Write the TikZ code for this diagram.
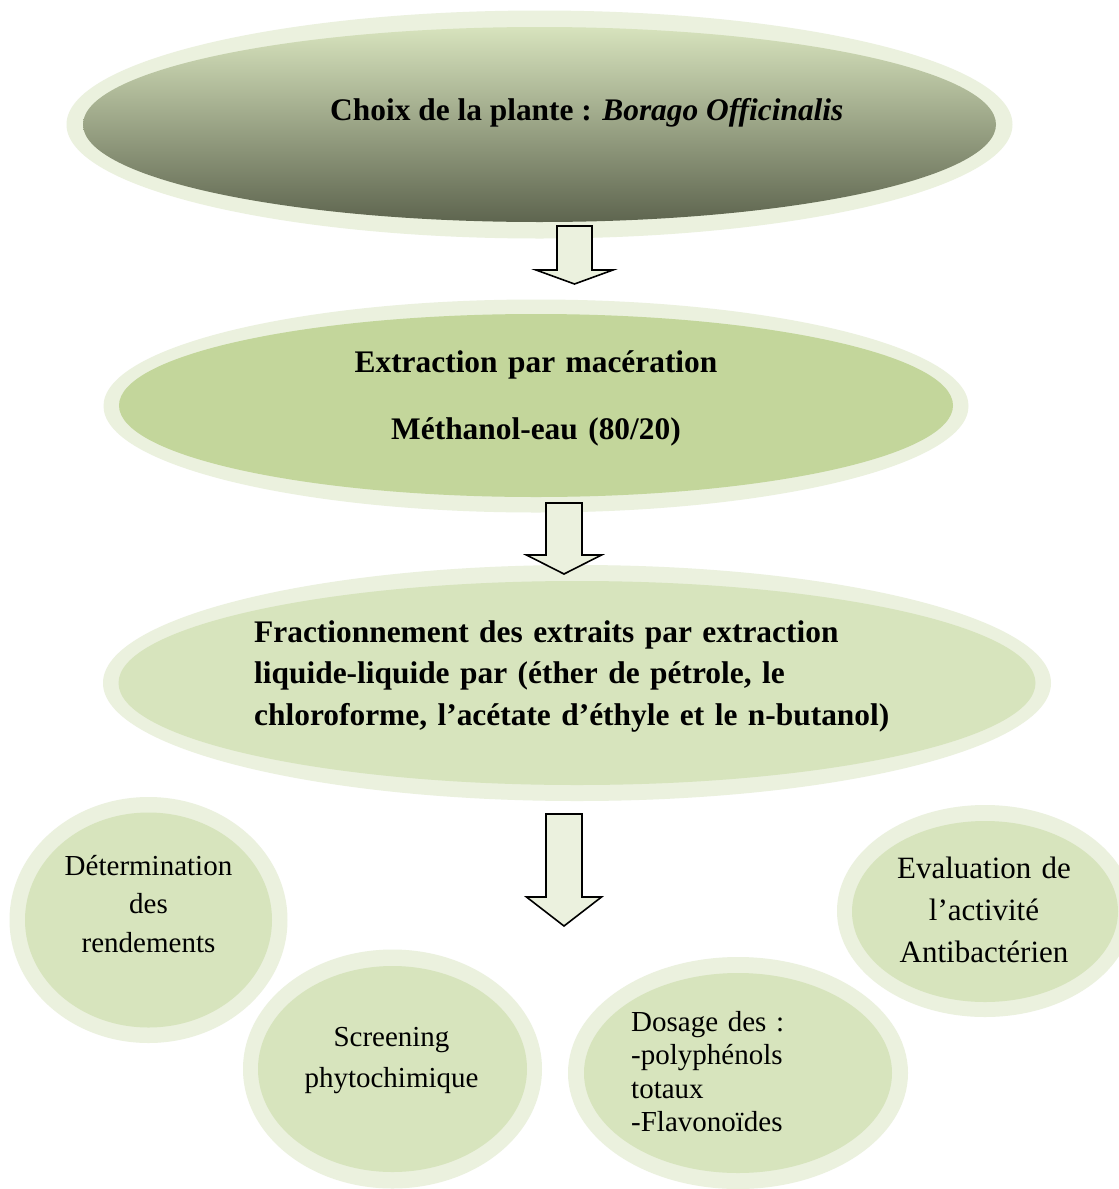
\documentclass[tikz,border=0pt]{standalone}
\usepackage{fontspec}
\setmainfont{Liberation Serif}
\usetikzlibrary{shapes.geometric}

\definecolor{halo}{HTML}{EBF1DE}
\definecolor{paleolive}{HTML}{D7E4BD}
\definecolor{midolive}{HTML}{C3D69B}
\definecolor{shadetop}{HTML}{D7E3BD}
\definecolor{shademid}{HTML}{A4AC8B}
\definecolor{shadebot}{HTML}{5E654F}

\tikzset{
  haloshape/.style={ellipse, inner sep=0pt, outer sep=0pt, fill=halo, draw=none},
  coreshape/.style={ellipse, inner sep=0pt, outer sep=0pt, draw=none},
  boldtext/.style={font=\bfseries\fontsize{31.4}{41.5}\selectfont, inner sep=0pt, text=black},
  plaintext/.style={inner sep=0pt, text=black},
  arrowbody/.style={draw=black, fill=halo, line width=1.6pt, line join=miter},
  pics/blockarrow/.style n args={4}{code={
    % #1 half shaft, #2 half head, #3 head base depth, #4 tip depth
    \draw[arrowbody] (-#1,0) -- (#1,0) -- (#1,#3) -- (#2,#3) -- (0,#4)
      -- (-#2,#3) -- (-#1,#3) -- cycle;
  }}
}

\begin{document}
\begin{tikzpicture}[x=1pt,y=-1pt]
\useasboundingbox (0,0) rectangle (1119,1189);
\fill[white] (0,0) rectangle (1119,1189);
\clip (0,0) rectangle (1119,1189);

% step 1: plant choice
\node[haloshape, minimum width=946pt, minimum height=228pt] (plantH) at (539.5,124.5) {};
\node[coreshape, minimum width=913pt, minimum height=195pt,
      top color=shadetop, middle color=shademid, bottom color=shadebot] (plant) at (539.5,124.5) {};
\node[boldtext, anchor=base west] (plantT) at (330,120)
  {Choix de la plante : \textit{Borago Officinalis}};

% step 2: maceration
\node[haloshape, minimum width=865pt, minimum height=213pt] (macH) at (536,406) {};
\node[coreshape, minimum width=834pt, minimum height=183pt, fill=midolive] (mac) at (536,405.5) {};
\node[boldtext, font=\bfseries\fontsize{31.4}{67}\selectfont, align=center,
      text width=600pt, anchor=base] (macT) at (536,372)
  {Extraction par macération\\Méthanol-eau (80/20)};

% step 3: fractionation
\node[haloshape, minimum width=948pt, minimum height=236pt] (fracH) at (577,683) {};
\node[coreshape, minimum width=917pt, minimum height=204pt, fill=paleolive] (frac) at (577,683) {};
\node[boldtext, align=left, text width=700pt, anchor=base west] (fracT) at (254,642)
  {Fractionnement des extraits par extraction\\
   liquide-liquide par (éther de pétrole, le\\
   chloroforme, l’acétate d’éthyle et le n-butanol)};

% analyses
\node[haloshape, minimum width=278pt, minimum height=246pt] (rendH) at (148.5,920) {};
\node[coreshape, minimum width=247pt, minimum height=215pt, fill=paleolive] (rend) at (148.5,920) {};
\node[plaintext, font=\fontsize{29}{38.5}\selectfont, align=center, text width=240pt,
      anchor=base] (rendT) at (148.5,875)
  {Détermination\\des\\rendements};

\node[haloshape, minimum width=299pt, minimum height=239pt] (screenH) at (392.5,1069) {};
\node[coreshape, minimum width=269pt, minimum height=206pt, fill=paleolive] (screen) at (392.5,1069) {};
\node[plaintext, font=\fontsize{29}{41}\selectfont, align=center, text width=260pt,
      anchor=base] (screenT) at (391.5,1046)
  {Screening\\phytochimique};

\node[haloshape, minimum width=340pt, minimum height=232pt] (dosH) at (738,1073) {};
\node[coreshape, minimum width=308pt, minimum height=200pt, fill=paleolive] (dos) at (738,1073) {};
\node[plaintext, font=\fontsize{29}{33.6}\selectfont, align=left, text width=240pt,
      anchor=base west] (dosT) at (631,1031)
  {Dosage des :\\-polyphénols\\totaux\\-Flavonoïdes};

\node[haloshape, minimum width=296pt, minimum height=212pt] (evalH) at (985,911) {};
\node[coreshape, minimum width=266pt, minimum height=181pt, fill=paleolive] (eval) at (985,911.5) {};
\node[plaintext, font=\fontsize{31}{42}\selectfont, align=center, text width=260pt,
      anchor=base] (evalT) at (984,878)
  {Evaluation de\\l’activité\\Antibactérien};

% connecting block arrows
\coordinate (a1) at (574.5,226);
\coordinate (a2) at (564,503);
\coordinate (a3) at (564,814);
\pic at (a1) {blockarrow={17.5}{38.5}{44}{58}};
\pic at (a2) {blockarrow={18}{37.5}{52}{71}};
\pic at (a3) {blockarrow={18}{37.5}{83}{112}};
\end{tikzpicture}
\end{document}
